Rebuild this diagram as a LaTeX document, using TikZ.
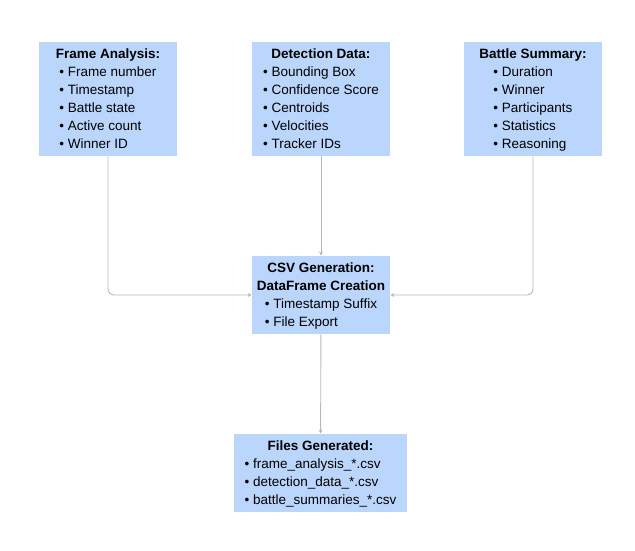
\documentclass[tikz,border=0pt]{standalone}
\usepackage{fontspec}
\setmainfont{Liberation Sans}
\usepackage{tikz}
\usetikzlibrary{arrows.meta}
\definecolor{boxblue}{RGB}{187,214,252}
\definecolor{linegray}{RGB}{176,186,198}
\def\boxw{138pt}
\newcommand{\stagetitle}[1]{\rule{0pt}{14pt}\textbf{#1}}

\begin{document}
\begin{tikzpicture}[x=1pt,y=-1pt,->,>={Stealth[length=4pt,width=4pt]},draw=linegray,line width=0.9pt]
    \tikzstyle{stage}=[fill=boxblue,draw=none,inner sep=0pt,align=center,
        font=\fontsize{13.5}{18}\selectfont,minimum width=\boxw]
    \tikzstyle{source stage}=[stage, minimum height=114pt]
    \tikzstyle{mid stage}=[stage, minimum height=78pt]
    \tikzstyle{link}=[rounded corners=6pt]

    \useasboundingbox (0,0) rectangle (635,551);

    % Draw the three data sources
    \node[source stage] (FA) at (108,99) {\stagetitle{Frame Analysis:}\\
        \begin{tabular}[t]{@{}l@{}}• Frame number\\• Timestamp\\• Battle state\\• Active count\\• Winner ID\end{tabular}};
    \node[source stage] (DD) at (321,99) {\stagetitle{Detection Data:}\\
        \begin{tabular}[t]{@{}l@{}}• Bounding Box\\• Confidence Score\\• Centroids\\• Velocities\\• Tracker IDs\end{tabular}};
    \node[source stage] (BS) at (533,99) {\stagetitle{Battle Summary:}\\
        \begin{tabular}[t]{@{}l@{}}• Duration\\• Winner\\• Participants\\• Statistics\\• Reasoning\end{tabular}};

    % Draw the CSV step and its output
    \node[mid stage] (CSV) at (321,295) {\stagetitle{CSV Generation:}\\\textbf{DataFrame Creation}\\
        \begin{tabular}[t]{@{}l@{}}• Timestamp Suffix\\• File Export\end{tabular}};
    \node[mid stage, minimum width=173pt] (FG) at (320.5,473) {\stagetitle{Files Generated:}\\
        \begin{tabular}[t]{@{}l@{}}• frame\_analysis\_*.csv\\• detection\_data\_*.csv\\• battle\_summaries\_*.csv\end{tabular}};

    % Connect the sources with the CSV step
    \draw[link] (FA.south) |- (CSV.west);
    \draw (DD) -- (CSV);
    \draw[link] (BS.south) |- (CSV.east);
    \draw (CSV) -- (FG);
\end{tikzpicture}
\end{document}
